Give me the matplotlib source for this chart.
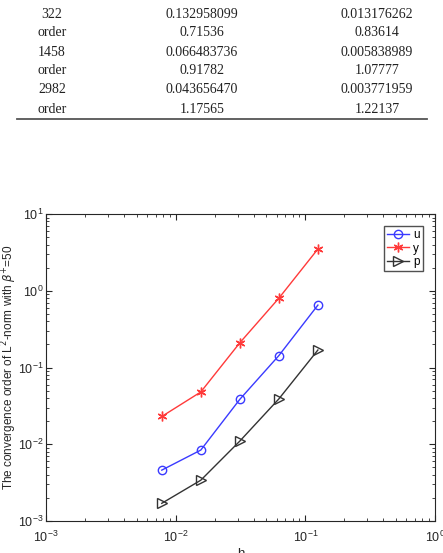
import matplotlib.pyplot as plt
from matplotlib.lines import Line2D

plt.rcParams['font.family'] = 'Liberation Sans'

# table rows (top part of the page)
tab_col1 = ['322', 'order', '1458', 'order', '2982', 'order']
tab_col2 = ['0.132958099', '0.71536', '0.066483736', '0.91782', '0.043656470', '1.17565']
tab_col3 = ['0.013176262', '0.83614', '0.005838989', '1.07777', '0.003771959', '1.22137']

# convergence data
h = [1/128, 1/64, 1/32, 1/16, 1/8]
err_u = [0.0046, 0.0084, 0.0385, 0.143, 0.65]
err_y = [0.023, 0.048, 0.21, 0.80, 3.5]
err_p = [0.0017, 0.0034, 0.011, 0.039, 0.169]

W, H = 443, 553
fig = plt.figure(figsize=(W/100, H/100), dpi=100)

# table text
row_y = [14, 33, 52, 71, 90, 109]
for i in range(len(tab_col1)):
    for xc, col in zip([52, 202, 377], [tab_col1, tab_col2, tab_col3]):
        fig.text(xc/W, 1 - row_y[i]/H, col[i], ha='center', va='center',
                 fontsize=10, family='Liberation Serif', color='#222222')
fig.add_artist(Line2D([17/W, 427/W], [1 - 119/H, 1 - 119/H], color='#555555', lw=1.3))

# log-log plot
gray = '#262626'
ax = fig.add_axes([46/W, 1 - 521/H, 389/W, 307/H])
ax.loglog(h, err_u, '-o', color='#3a3aff', mfc='none', ms=6, lw=1, label='u')
ax.loglog(h, err_y, '-', marker=(6, 2, 0), color='#ff3a3a', ms=7, lw=1, label='y')
ax.loglog(h, err_p, '->', color='#333333', mfc='none', ms=7, lw=1, label='p')
ax.set_xlim(1e-3, 1)
ax.set_ylim(1e-3, 10)
ax.tick_params(which='both', direction='in', top=True, right=True, colors=gray, labelsize=9)
ax.tick_params(which='major', length=4)
ax.tick_params(which='minor', length=2)
ax.tick_params(axis='x', which='major', pad=6)
ax.tick_params(axis='y', which='major', pad=1.5)
for s in ax.spines.values():
    s.set_color(gray)
ax.set_xlabel('h', fontsize=9.5, color=gray)
ax.xaxis.set_label_coords(0.5, -(548 - 521)/307)
ax.xaxis.label.set_va('top')
ax.set_ylabel(r'The convergence order of L$^2$-norm with $\beta^{+}$=50', fontsize=8.5, color=gray)
ax.yaxis.set_label_coords(-(46 - 9)/389, 0.5)
ax.yaxis.label.set_va('center')
leg = ax.legend(loc='upper right', fontsize=8.5, fancybox=False, edgecolor=gray,
                handlelength=1.9, handletextpad=0.3, borderpad=0.3,
                borderaxespad=1.0, labelspacing=0.1)

fig.savefig('out.png', dpi=100)
